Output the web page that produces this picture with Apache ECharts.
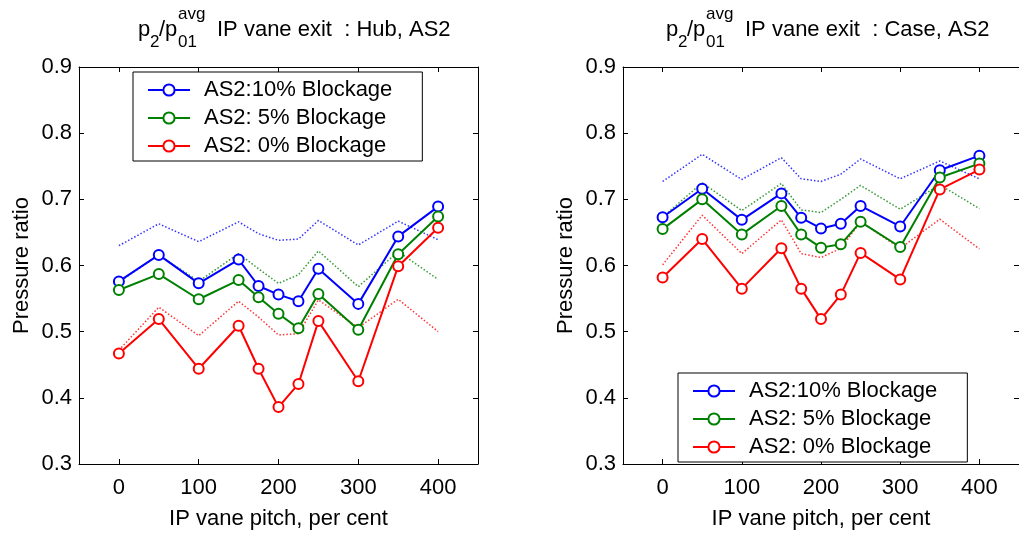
<!DOCTYPE html>
<html>
<head>
<meta charset="utf-8">
<title>IP vane exit pressure ratio</title>
<script src="https://cdn.jsdelivr.net/npm/echarts@6/dist/echarts.min.js"></script>
<style>
  html, body { margin: 0; padding: 0; background: #fff; }
  #chart { width: 1019px; height: 535px; }
</style>
</head>
<body>
<div id="chart"></div>
<script>
// pitch positions (per cent)
const pitch = [0, 50, 100, 150, 175, 200, 225, 250, 300, 350, 400];

const legendNames = ["AS2:10% Blockage", "AS2: 5% Blockage", "AS2: 0% Blockage"];

// Hub, solid lines with markers
const hub10 = [0.576, 0.616, 0.573, 0.609, 0.569, 0.556, 0.546, 0.595, 0.542, 0.644, 0.689];
const hub5 = [0.563, 0.587, 0.549, 0.578, 0.552, 0.527, 0.505, 0.557, 0.503, 0.617, 0.674];
const hub0 = [0.467, 0.519, 0.444, 0.509, 0.444, 0.386, 0.421, 0.516, 0.425, 0.599, 0.657];
// Hub, dotted lines
const hub10Dot = [0.630, 0.663, 0.636, 0.666, 0.648, 0.638, 0.640, 0.668, 0.631, 0.667, 0.639];
const hub5Dot = [0.575, 0.616, 0.576, 0.618, 0.595, 0.573, 0.586, 0.622, 0.568, 0.621, 0.579];
const hub0Dot = [0.472, 0.537, 0.494, 0.546, 0.522, 0.495, 0.497, 0.548, 0.506, 0.549, 0.500];

// Case, solid lines with markers
const case10 = [0.673, 0.716, 0.669, 0.709, 0.672, 0.656, 0.663, 0.690, 0.659, 0.744, 0.766];
const case5 = [0.655, 0.700, 0.647, 0.690, 0.647, 0.627, 0.632, 0.666, 0.628, 0.733, 0.754];
const case0 = [0.582, 0.640, 0.565, 0.626, 0.565, 0.519, 0.556, 0.619, 0.579, 0.715, 0.745];
// Case, dotted lines
const case10Dot = [0.727, 0.768, 0.730, 0.763, 0.731, 0.727, 0.738, 0.761, 0.731, 0.758, 0.731];
const case5Dot = [0.673, 0.725, 0.683, 0.724, 0.684, 0.680, 0.700, 0.721, 0.685, 0.722, 0.686];
const case0Dot = [0.601, 0.676, 0.618, 0.669, 0.618, 0.612, 0.626, 0.666, 0.626, 0.670, 0.625];

const xTicks = [0, 100, 200, 300, 400];
const yTicks = [0.3, 0.4, 0.5, 0.6, 0.7, 0.8, 0.9];

const colors = ["#0000ff", "#008000", "#ff0000"];
const font = "Liberation Sans, Arial, sans-serif";

const chart = echarts.init(document.getElementById("chart"));

// pair each value with its pitch
function pairs(values) {
  return values.map((v, i) => [pitch[i], v]);
}

// x axis, bottom has labels, top just ticks
function xAxisFor(grid, bottom) {
  return {
    gridIndex: grid,
    type: "value",
    min: -50,
    max: 450,
    position: bottom ? "bottom" : "top",
    axisLine: { show: true, onZero: false, lineStyle: { color: "#000", width: 1 } },
    axisTick: { show: true, inside: true, length: 5, customValues: xTicks, lineStyle: { color: "#000" } },
    axisLabel: {
      show: bottom,
      customValues: xTicks,
      margin: 13,
      fontSize: 22,
      color: "#000",
      fontFamily: font
    },
    splitLine: { show: false },
    name: bottom ? "IP vane pitch, per cent" : "",
    nameLocation: "middle",
    nameGap: 44,
    nameTextStyle: { fontSize: 22, color: "#000", fontFamily: font }
  };
}

// y axis, left has labels, right just ticks
function yAxisFor(grid, left) {
  return {
    gridIndex: grid,
    type: "value",
    min: 0.3,
    max: 0.9,
    position: left ? "left" : "right",
    axisLine: { show: true, onZero: false, lineStyle: { color: "#000", width: 1 } },
    axisTick: { show: true, inside: true, length: 5, customValues: yTicks, lineStyle: { color: "#000" } },
    axisLabel: {
      show: left,
      customValues: yTicks,
      formatter: v => v.toFixed(1),
      margin: 7,
      fontSize: 22,
      color: "#000",
      fontFamily: font
    },
    splitLine: { show: false },
    name: left ? "Pressure ratio" : "",
    nameLocation: "middle",
    nameGap: 46,
    nameTextStyle: { fontSize: 22, color: "#000", fontFamily: font }
  };
}

function solid(name, values, color, axis) {
  return {
    name: name,
    type: "line",
    xAxisIndex: axis.x,
    yAxisIndex: axis.y,
    data: pairs(values),
    symbol: "emptyCircle",
    symbolSize: 10,
    lineStyle: { color: color, width: 2 },
    itemStyle: { color: color, borderColor: color, borderWidth: 2 },
    z: 5
  };
}

function dotted(name, values, color, axis) {
  return {
    name: name,
    type: "line",
    xAxisIndex: axis.x,
    yAxisIndex: axis.y,
    data: pairs(values),
    showSymbol: false,
    lineStyle: { color: color, width: 1.5, type: [1.5, 2], opacity: 0.8 },
    itemStyle: { color: color },
    z: 3
  };
}

function legendAt(left, top) {
  return {
    data: legendNames,
    orient: "vertical",
    left: left,
    top: top,
    padding: [7, 30, 4, 14],
    itemGap: 6,
    itemWidth: 42,
    itemHeight: 14,
    backgroundColor: "#fff",
    borderColor: "#000",
    borderWidth: 1,
    borderRadius: 0,
    textStyle: { fontSize: 22, color: "#000", fontFamily: font, padding: [0, 0, 0, 9] },
    z: 10
  };
}

// title pieces: p2/p01 with avg superscript
function titleGroup(left, label) {
  const main = { fontSize: 22, fill: "#000", fontFamily: font };
  const small = { fontSize: 17, fill: "#000", fontFamily: font };
  const piece = (x, y, text, st) => ({
    type: "text",
    x: x,
    y: y,
    style: Object.assign({ text: text, textAlign: "left", textVerticalAlign: "middle" }, st)
  });
  return {
    type: "group",
    left: left,
    top: 6,
    children: [
      piece(0, 27, "p", main),
      piece(12, 40, "2", small),
      piece(21, 27, "/p", main),
      piece(40, 12, "avg", small),
      piece(40, 40, "01", small),
      piece(79, 27, label, main)
    ]
  };
}

const hubAxis = { x: 0, y: 0 };
const caseAxis = { x: 2, y: 2 };

const option = {
  backgroundColor: "#fff",
  animation: false,
  grid: [
    { left: 79, top: 67, width: 399, height: 400 },
    { left: 623, top: 67, width: 398, height: 400 }
  ],
  xAxis: [xAxisFor(0, true), xAxisFor(0, false), xAxisFor(1, true), xAxisFor(1, false)],
  yAxis: [yAxisFor(0, true), yAxisFor(0, false), yAxisFor(1, true), yAxisFor(1, false)],
  legend: [legendAt(133, 72), legendAt(678, 373)],
  graphic: [
    titleGroup(138, "IP vane exit  : Hub, AS2"),
    titleGroup(666, "IP vane exit  : Case, AS2")
  ],
  series: [
    dotted("hub10dot", hub10Dot, colors[0], hubAxis),
    dotted("hub5dot", hub5Dot, colors[1], hubAxis),
    dotted("hub0dot", hub0Dot, colors[2], hubAxis),
    solid(legendNames[0], hub10, colors[0], hubAxis),
    solid(legendNames[1], hub5, colors[1], hubAxis),
    solid(legendNames[2], hub0, colors[2], hubAxis),
    dotted("case10dot", case10Dot, colors[0], caseAxis),
    dotted("case5dot", case5Dot, colors[1], caseAxis),
    dotted("case0dot", case0Dot, colors[2], caseAxis),
    solid(legendNames[0], case10, colors[0], caseAxis),
    solid(legendNames[1], case5, colors[1], caseAxis),
    solid(legendNames[2], case0, colors[2], caseAxis)
  ]
};

chart.setOption(option);
</script>
</body>
</html>
